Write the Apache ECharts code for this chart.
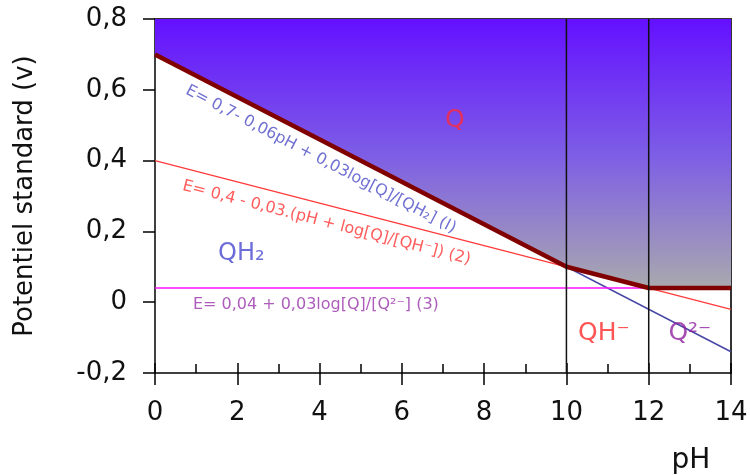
<!DOCTYPE html>
<html>
<head>
<meta charset="utf-8">
<script src="https://cdn.jsdelivr.net/npm/echarts@6/dist/echarts.min.js"></script>
<style>html,body{margin:0;padding:0;background:#fff}#c{width:750px;height:475px}</style>
</head>
<body>
<div id="c"></div>
<script>
// ---- data ----
const phRange = [0, 14];
const eRange = [-0.2, 0.8];
const phInterval = 2;
const eInterval = 0.2;
// stability boundary (upper domain Q)
const boundaryPH = [0, 10, 12, 14];
const boundaryE = [0.7, 0.1, 0.04, 0.04];
// E = 0.7 - 0.06 pH
const line1PH = [0, 14];
const line1E = [0.7, -0.14];
// E = 0.4 - 0.03 pH
const line2PH = [0, 14];
const line2E = [0.4, -0.02];
// E = 0.04
const line3PH = [0, 12];
const line3E = [0.04, 0.04];
// pKa vertical lines
const pKaPH = [10, 12];
// species labels and equations
const labelTexts = ['Q', 'QH₂', 'QH⁻', 'Q²⁻',
  'E= 0,7- 0,06pH + 0,03log[Q]/[QH₂] (I)',
  'E= 0,4 - 0,03.(pH + log[Q]/[QH⁻]) (2)',
  'E= 0,04 + 0,03log[Q]/[Q²⁻] (3)'];
const labelPH = [7.29, 2.10, 10.91, 13.0, 4.03, 4.17, 3.91];
const labelE = [0.512, 0.136, -0.088, -0.088, 0.403, 0.224, -0.008];

// ---- styles ----
const labelStyles = [
  {color: '#ff2a3a', fontSize: 25, rotate: 0},
  {color: '#4848d0', fontSize: 24, rotate: 0},
  {color: '#ff2a2a', fontSize: 25, rotate: 0},
  {color: '#9020a0', fontSize: 25, rotate: 0},
  {color: '#4c4cc8', fontSize: 16, rotate: -27.5},
  {color: '#ff3333', fontSize: 16, rotate: -14.5},
  {color: '#9933aa', fontSize: 16, rotate: 0}
];
const FONT = 'DejaVu Sans';
const zip = (a, b) => a.map((v, i) => [v, b[i]]);

const chart = echarts.init(document.getElementById('c'), null, {renderer: 'canvas'});

const series = [
  { // filled domain Q
    type: 'line', data: zip(boundaryPH, boundaryE), symbol: 'none', z: 1,
    lineStyle: {width: 0, opacity: 0},
    areaStyle: {origin: 'end', opacity: 1,
      color: new echarts.graphic.LinearGradient(0, 0, 0, 1, [
        {offset: 0, color: '#6410ff'},
        {offset: 0.5, color: '#7d5de6'},
        {offset: 1, color: '#a9a9ae'}
      ])}
  },
  {type: 'line', data: zip(line1PH, line1E), symbol: 'none', z: 2,
    lineStyle: {color: '#4646a6', width: 1.5}},
  {type: 'line', data: zip(line2PH, line2E), symbol: 'none', z: 2,
    lineStyle: {color: '#ff3a3a', width: 1.3}},
  {type: 'line', data: zip(line3PH, line3E), symbol: 'none', z: 2,
    lineStyle: {color: '#ff10ff', width: 1.5}},
  {type: 'line', data: zip(boundaryPH, boundaryE), symbol: 'none', z: 3,
    lineStyle: {color: '#800000', width: 4.5}}
];
pKaPH.forEach(p => series.push({
  type: 'line', data: [[p, eRange[0]], [p, eRange[1]]], symbol: 'none', z: 4,
  lineStyle: {color: '#111', width: 1.5}
}));
series.push({
  type: 'scatter', symbol: 'circle', symbolSize: 2, z: 5, silent: true,
  itemStyle: {color: 'rgba(0,0,0,0)'},
  labelLayout: {hideOverlap: false},
  data: labelTexts.map((t, i) => ({
    name: t, value: [labelPH[i], labelE[i]],
    label: {show: true, position: 'inside', formatter: t, fontFamily: FONT,
      color: labelStyles[i].color, fontSize: labelStyles[i].fontSize,
      rotate: labelStyles[i].rotate, align: 'center', verticalAlign: 'middle'}
  }))
});

const fmtE = v => (Math.abs(v) < 1e-9 ? '0' : v.toFixed(1).replace('.', ','));

chart.setOption({
  animation: false,
  grid: {left: 155, right: 19, top: 19, bottom: 102, containLabel: false, outerBoundsMode: 'none'},
  xAxis: [
    {type: 'value', min: phRange[0], max: phRange[1], interval: phInterval, position: 'bottom',
      axisLine: {show: true, onZero: false, lineStyle: {color: '#000', width: 1.5}},
      axisTick: {show: true, inside: true, length: 10, lineStyle: {color: '#000', width: 1.5}},
      minorTick: {show: true, splitNumber: 2, length: 9, lineStyle: {color: '#000', width: 1.5}},
      axisLabel: {show: false}, splitLine: {show: false}, minorSplitLine: {show: false}},
    {type: 'value', min: phRange[0], max: phRange[1], interval: phInterval, position: 'bottom',
      axisLine: {show: false, onZero: false},
      axisTick: {show: true, inside: false, length: 12, lineStyle: {color: '#000', width: 1.5}},
      axisLabel: {show: true, margin: 27, fontSize: 26, fontFamily: FONT, color: '#111'},
      splitLine: {show: false},
      name: 'pH', nameLocation: 'end', nameGap: -40,
      nameTextStyle: {fontSize: 28, fontFamily: FONT, color: '#111', align: 'center',
        verticalAlign: 'top', padding: [74, 0, 0, 0]}},
    {type: 'value', min: phRange[0], max: phRange[1], position: 'top',
      axisLine: {show: true, onZero: false, lineStyle: {color: '#333', width: 2}},
      axisTick: {show: false}, axisLabel: {show: false}, splitLine: {show: false}}
  ],
  yAxis: [
    {type: 'value', min: eRange[0], max: eRange[1], interval: eInterval, position: 'left',
      axisLine: {show: true, onZero: false, lineStyle: {color: '#000', width: 1.5}},
      axisTick: {show: true, length: 12, lineStyle: {color: '#000', width: 1.5}},
      axisLabel: {margin: 28, fontSize: 26, fontFamily: FONT, color: '#111', formatter: fmtE},
      splitLine: {show: false},
      name: 'Potentiel standard (v)', nameLocation: 'middle', nameGap: 117,
      nameTextStyle: {fontSize: 26, fontFamily: FONT, color: '#111'}},
    {type: 'value', min: eRange[0], max: eRange[1], position: 'right',
      axisLine: {show: true, onZero: false, lineStyle: {color: '#333', width: 2}},
      axisTick: {show: false}, axisLabel: {show: false}, splitLine: {show: false}}
  ],
  series: series
});
</script>
</body>
</html>
